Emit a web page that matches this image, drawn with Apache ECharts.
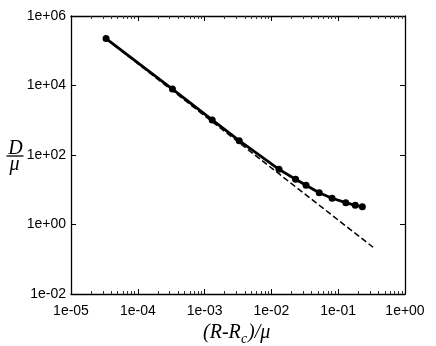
<!DOCTYPE html>
<html>
<head>
<meta charset="utf-8">
<script src="https://cdn.jsdelivr.net/npm/echarts@6/dist/echarts.min.js"></script>
<style>
  html, body { margin: 0; padding: 0; background: #fff; }
  #chart { width: 436px; height: 346px; }
</style>
</head>
<body>
<div id="chart"></div>
<script>
// measured points (R-Rc)/mu vs D/mu
const xVals = [3.35e-5, 3.3e-4, 1.3e-3, 3.3e-3, 1.3e-2, 2.3e-2, 3.3e-2, 5.2e-2, 8.1e-2, 0.13, 0.18, 0.23];
const yVals = [2.25e5, 7.9e3, 1.02e3, 258, 38.7, 20.0, 13.4, 8.2, 5.7, 4.24, 3.57, 3.26];
// asymptotic power law (dashed)
const fitX = [3.35e-5, 0.333];
const fitY = [2.2e5, 0.221];
// axis ranges / ticks
const xMajor = [1e-5, 1e-4, 1e-3, 1e-2, 1e-1, 1];
const yMajor = [1e-2, 1, 1e2, 1e4, 1e6];

const minorX = [];
for (let i = 0; i < xMajor.length - 1; i++) {
    for (let k = 2; k <= 9; k++) minorX.push(xMajor[i] * k);
}

function sciLabel(v) {
    const e = Math.round(Math.log10(v));
    return '1e' + (e < 0 ? '-' : '+') + String(Math.abs(e)).padStart(2, '0');
}

const labelFont = { color: '#000', fontSize: 14, fontFamily: 'Liberation Sans' };
const lineStyle = { color: '#000', width: 1.3 };

function xAx(pos, opts) {
    return Object.assign({
        type: 'log', logBase: 10, min: 1e-5, max: 1, position: pos,
        axisLine: { show: true, lineStyle: lineStyle },
        axisTick: { show: true, inside: true, length: 5, lineStyle: { color: '#000', width: 1 }, customValues: xMajor },
        axisLabel: { show: false },
        splitLine: { show: false }
    }, opts);
}
function yAx(pos, opts) {
    return Object.assign({
        type: 'log', logBase: 10, min: 1e-2, max: 1e6, position: pos,
        axisLine: { show: true, lineStyle: lineStyle },
        axisTick: { show: true, inside: true, length: 5, lineStyle: { color: '#000', width: 1 }, customValues: yMajor.slice(1, -1) },
        axisLabel: { show: false },
        splitLine: { show: false }
    }, opts);
}

const chart = echarts.init(document.getElementById('chart'));
chart.setOption({
    animation: false,
    grid: { left: 71, right: 31, top: 16, bottom: 52 },
    xAxis: [
        xAx('bottom', {
            axisLabel: Object.assign({ show: true, margin: 10, formatter: sciLabel, customValues: xMajor }, labelFont)
        }),
        xAx('top', {}),
        xAx('bottom', {
            axisLine: { show: false },
            axisTick: { show: true, inside: true, length: 3, lineStyle: { color: '#333', width: 1 }, customValues: minorX }
        }),
        xAx('top', {
            axisLine: { show: false },
            axisTick: { show: true, inside: true, length: 3, lineStyle: { color: '#333', width: 1 }, customValues: minorX }
        })
    ],
    yAxis: [
        yAx('left', {
            axisLabel: Object.assign({ show: true, margin: 5, formatter: sciLabel, customValues: yMajor }, labelFont)
        }),
        yAx('right', {})
    ],
    series: [
        {
            type: 'line',
            data: fitX.map((x, i) => [x, fitY[i]]),
            showSymbol: false,
            lineStyle: { color: '#000', width: 1.5, type: [6, 3] },
            z: 2
        },
        {
            type: 'line',
            data: xVals.map((x, i) => [x, yVals[i]]),
            symbol: 'circle',
            symbolSize: 7,
            itemStyle: { color: '#000' },
            lineStyle: { color: '#000', width: 2.8 },
            z: 3
        }
    ],
    graphic: [
        {
            type: 'group', left: 203, top: 323,
            children: [
                { type: 'text', x: 0, y: 0, style: { text: '(R-R', font: 'italic 20px "Liberation Serif"', fill: '#000' } },
                { type: 'text', x: 38, y: 9, style: { text: 'c', font: 'italic 14px "Liberation Serif"', fill: '#000' } },
                { type: 'text', x: 45, y: 0, style: { text: ')/\u03bc', font: 'italic 20px "Liberation Serif"', fill: '#000' } }
            ]
        },
        {
            type: 'group', left: 4, top: 139,
            children: [
                { type: 'text', x: 9, y: 0, style: { text: 'D', font: 'italic 20px "Liberation Serif"', fill: '#000', align: 'center' } },
                { type: 'line', shape: { x1: 0, y1: 17, x2: 17, y2: 17 }, style: { stroke: '#000', lineWidth: 1.3 } },
                { type: 'text', x: 8, y: 16, style: { text: '\u03bc', font: 'italic 20px "Liberation Serif"', fill: '#000', align: 'center' } }
            ]
        }
    ]
});
</script>
</body>
</html>
